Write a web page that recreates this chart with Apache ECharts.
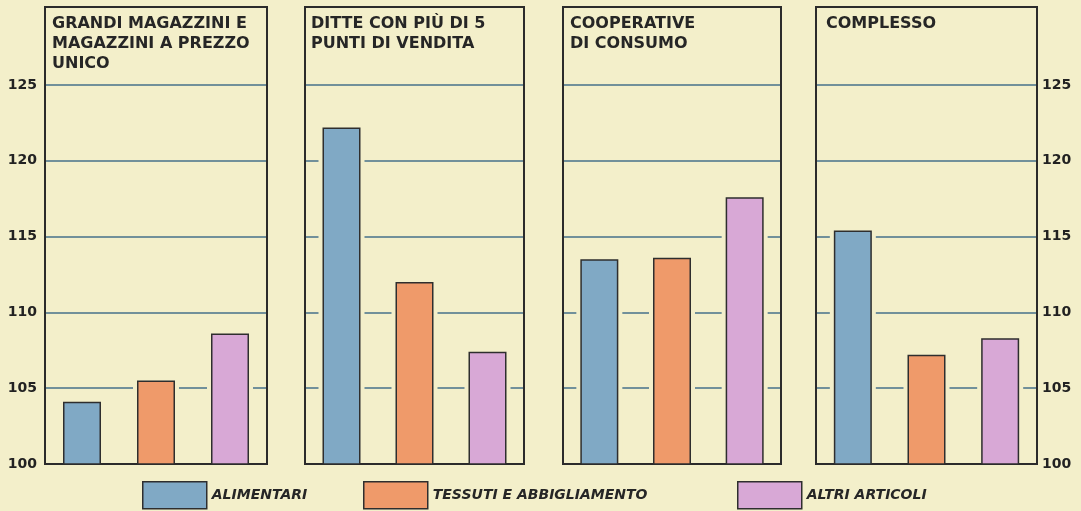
<!DOCTYPE html>
<html>
<head>
<meta charset="utf-8">
<script src="https://cdn.jsdelivr.net/npm/echarts@6/dist/echarts.min.js"></script>
<style>
  html, body { margin: 0; padding: 0; background: #f3efca; }
  #chart { width: 1081px; height: 511px; }
</style>
</head>
<body>
<div id="chart"></div>
<script>
// dati (indici, base 100)
var panels = [
  "GRANDI MAGAZZINI E\nMAGAZZINI A PREZZO\nUNICO",
  "DITTE CON PIÙ DI 5\nPUNTI DI VENDITA",
  "COOPERATIVE\nDI CONSUMO",
  "COMPLESSO"
];
var categories = ["ALIMENTARI", "TESSUTI E ABBIGLIAMENTO", "ALTRI ARTICOLI"];
var alimentari = [104.1, 122.2, 113.5, 115.4];
var tessuti = [105.5, 112.0, 113.6, 107.2];
var altri = [108.6, 107.4, 117.6, 108.3];
var values = [alimentari, tessuti, altri];

var bg = "#f3efca";
var colors = ["#80a9c5", "#ef9a6a", "#d8a8d6"];
var ink = "#262626";
var gridColor = "#46708a";

// posizione dei riquadri (px)
var boxes = [
  { left: 45, width: 222, tx: 52 },
  { left: 305, width: 219, tx: 311 },
  { left: 563, width: 218, tx: 570 },
  { left: 816, width: 221, tx: 826 }
];

var myChart = echarts.init(document.getElementById("chart"));

var grid = [], xAxis = [], yAxis = [], title = [], series = [];
for (var p = 0; p < panels.length; p++) {
  grid.push({
    left: boxes[p].left,
    width: boxes[p].width,
    top: 7,
    height: 457,
    z: 2,
    show: true,
    borderColor: "#2b2b2b",
    borderWidth: 2,
    backgroundColor: "transparent"
  });
  // asse per le barre e asse (nascosto) per lo stacco delle linee attorno alle barre
  for (var k = 0; k < 2; k++) {
    xAxis.push({
      type: "category",
      gridIndex: p,
      data: categories,
      axisLine: { show: false },
      axisTick: { show: false },
      axisLabel: { show: false }
    });
  }
  var showLab = p === 0 || p === panels.length - 1;
  yAxis.push({
    type: "value",
    gridIndex: p,
    position: p === panels.length - 1 ? "right" : "left",
    min: 100,
    max: 130.14,
    interval: 5,
    axisLine: { show: false },
    axisTick: { show: false },
    axisLabel: {
      show: showLab,
      margin: p === 0 ? 8 : 5,
      color: "#222",
      fontSize: 14,
      fontWeight: "bold",
      fontFamily: "DejaVu Sans",
      formatter: function (v) { return v > 125 ? "" : v; }
    },
    splitLine: {
      show: true,
      showMaxLine: false,
      lineStyle: {
        width: 1.6,
        color: [gridColor, gridColor, gridColor, gridColor, gridColor, gridColor, "rgba(0,0,0,0)", "rgba(0,0,0,0)"]
      }
    }
  });
  title.push({
    text: panels[p],
    left: boxes[p].tx,
    top: 14,
    padding: 0,
    textStyle: {
      color: ink,
      fontSize: 16,
      fontWeight: "bold",
      fontFamily: "DejaVu Sans",
      lineHeight: 20
    }
  });
  series.push({
    type: "bar",
    name: "stacco",
    xAxisIndex: p * 2 + 1,
    yAxisIndex: p,
    data: [alimentari[p], tessuti[p], altri[p]],
    barWidth: 46,
    z: 1,
    silent: true,
    itemStyle: { color: bg }
  });
  for (var c = 0; c < categories.length; c++) {
    var d = ["-", "-", "-"];
    d[c] = values[c][p];
    series.push({
      type: "bar",
      name: categories[c],
      xAxisIndex: p * 2,
      yAxisIndex: p,
      data: d,
      barWidth: 38,
      barGap: "-100%",
      z: 3,
      itemStyle: { color: colors[c], borderColor: "#2e2e2e", borderWidth: 1.5 }
    });
  }
}

var legendPos = [142, 363, 737];
var legend = [];
for (var i = 0; i < categories.length; i++) {
  legend.push({
    data: [categories[i]],
    left: legendPos[i],
    top: 481,
    padding: 0,
    itemWidth: 64,
    itemHeight: 27,
    icon: "rect",
    selectedMode: false,
    itemStyle: { borderColor: "#2e2e2e", borderWidth: 1.5 },
    textStyle: {
      color: ink,
      fontSize: 14,
      fontStyle: "italic",
      fontWeight: "bold",
      fontFamily: "DejaVu Sans"
    }
  });
}

var option = {
  backgroundColor: bg,
  animation: false,
  title: title,
  legend: legend,
  grid: grid,
  xAxis: xAxis,
  yAxis: yAxis,
  series: series
};
myChart.setOption(option);
</script>
</body>
</html>
